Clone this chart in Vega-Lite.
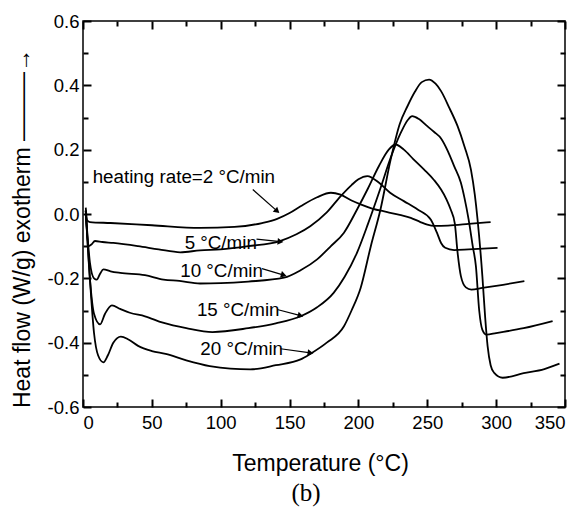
{
  "$schema": "https://vega.github.io/schema/vega-lite/v6.json",
  "width": 482,
  "height": 386,
  "autosize": "none",
  "padding": {"left": 83, "top": 21, "right": 17, "bottom": 107},
  "background": "white",
  "config": {
    "view": {"stroke": "black", "strokeWidth": 1.5},
    "font": "Liberation Sans",
    "axis": {"grid": false, "ticks": true, "tickOpacity": 1, "zindex": 1, "domain": false, "domainColor": "black", "tickColor": "#000000", "tickWidth": 2, "labelColor": "black", "titleColor": "black", "labelFont": "Liberation Sans", "titleFont": "Liberation Sans", "labelFontSize": 18.5, "titleFontSize": 23, "titleFontWeight": "normal"}
  },
  "title": {"text": "(b)", "orient": "bottom", "anchor": "middle", "font": "Liberation Serif", "fontSize": 25, "fontWeight": "normal", "color": "black", "offset": 6, "dx": -18},
  "datasets": {
    "curves": [
      {"rate": "2", "T": 2, "hf": 0.02}, {"rate": "2", "T": 3, "hf": -0.02}, {"rate": "2", "T": 5, "hf": -0.025}, {"rate": "2", "T": 20, "hf": -0.028}, {"rate": "2", "T": 50, "hf": -0.035}, {"rate": "2", "T": 85, "hf": -0.043}, {"rate": "2", "T": 110, "hf": -0.04}, {"rate": "2", "T": 130, "hf": -0.028}, {"rate": "2", "T": 141, "hf": -0.015}, {"rate": "2", "T": 150, "hf": 0.003}, {"rate": "2", "T": 158, "hf": 0.024}, {"rate": "2", "T": 170, "hf": 0.052}, {"rate": "2", "T": 180, "hf": 0.066}, {"rate": "2", "T": 187, "hf": 0.06}, {"rate": "2", "T": 195, "hf": 0.042}, {"rate": "2", "T": 201.6, "hf": 0.03}, {"rate": "2", "T": 210, "hf": 0.017}, {"rate": "2", "T": 221, "hf": 0.006}, {"rate": "2", "T": 230, "hf": -0.003}, {"rate": "2", "T": 238, "hf": -0.012}, {"rate": "2", "T": 245, "hf": -0.025}, {"rate": "2", "T": 250, "hf": -0.033}, {"rate": "2", "T": 255, "hf": -0.037}, {"rate": "2", "T": 265, "hf": -0.036}, {"rate": "2", "T": 280, "hf": -0.031}, {"rate": "2", "T": 296, "hf": -0.025},

      {"rate": "5", "T": 2, "hf": 0.01}, {"rate": "5", "T": 3.9, "hf": -0.1}, {"rate": "5", "T": 6, "hf": -0.095}, {"rate": "5", "T": 8.7, "hf": -0.084}, {"rate": "5", "T": 14, "hf": -0.087}, {"rate": "5", "T": 22, "hf": -0.09}, {"rate": "5", "T": 40, "hf": -0.1}, {"rate": "5", "T": 55, "hf": -0.11}, {"rate": "5", "T": 70.6, "hf": -0.119}, {"rate": "5", "T": 85, "hf": -0.113}, {"rate": "5", "T": 100, "hf": -0.11}, {"rate": "5", "T": 120, "hf": -0.1}, {"rate": "5", "T": 143, "hf": -0.084}, {"rate": "5", "T": 155, "hf": -0.063}, {"rate": "5", "T": 165, "hf": -0.038}, {"rate": "5", "T": 177, "hf": 0.005}, {"rate": "5", "T": 187, "hf": 0.055}, {"rate": "5", "T": 195, "hf": 0.09}, {"rate": "5", "T": 200, "hf": 0.108}, {"rate": "5", "T": 206.5, "hf": 0.118}, {"rate": "5", "T": 215, "hf": 0.097}, {"rate": "5", "T": 223, "hf": 0.066}, {"rate": "5", "T": 233, "hf": 0.04}, {"rate": "5", "T": 243, "hf": 0.014}, {"rate": "5", "T": 252.5, "hf": -0.017}, {"rate": "5", "T": 257, "hf": -0.058}, {"rate": "5", "T": 260, "hf": -0.09}, {"rate": "5", "T": 263, "hf": -0.105}, {"rate": "5", "T": 269.5, "hf": -0.112}, {"rate": "5", "T": 280, "hf": -0.11}, {"rate": "5", "T": 301, "hf": -0.105},

      {"rate": "10", "T": 2, "hf": 0.01}, {"rate": "10", "T": 5, "hf": -0.15}, {"rate": "10", "T": 8, "hf": -0.2}, {"rate": "10", "T": 10, "hf": -0.204}, {"rate": "10", "T": 12.5, "hf": -0.185}, {"rate": "10", "T": 14.8, "hf": -0.172}, {"rate": "10", "T": 20, "hf": -0.178}, {"rate": "10", "T": 27, "hf": -0.183}, {"rate": "10", "T": 45, "hf": -0.19}, {"rate": "10", "T": 58.5, "hf": -0.204}, {"rate": "10", "T": 70, "hf": -0.208}, {"rate": "10", "T": 85, "hf": -0.216}, {"rate": "10", "T": 100, "hf": -0.215}, {"rate": "10", "T": 120, "hf": -0.21}, {"rate": "10", "T": 146, "hf": -0.198}, {"rate": "10", "T": 158, "hf": -0.175}, {"rate": "10", "T": 170, "hf": -0.141}, {"rate": "10", "T": 180, "hf": -0.1}, {"rate": "10", "T": 189.5, "hf": -0.058}, {"rate": "10", "T": 199, "hf": 0.014}, {"rate": "10", "T": 207, "hf": 0.08}, {"rate": "10", "T": 215, "hf": 0.15}, {"rate": "10", "T": 222, "hf": 0.2}, {"rate": "10", "T": 227, "hf": 0.216}, {"rate": "10", "T": 233, "hf": 0.2}, {"rate": "10", "T": 240, "hf": 0.17}, {"rate": "10", "T": 247.7, "hf": 0.138}, {"rate": "10", "T": 255, "hf": 0.105}, {"rate": "10", "T": 260, "hf": 0.076}, {"rate": "10", "T": 264, "hf": 0.045}, {"rate": "10", "T": 267, "hf": 0.014}, {"rate": "10", "T": 270, "hf": -0.03}, {"rate": "10", "T": 272, "hf": -0.12}, {"rate": "10", "T": 274.4, "hf": -0.193}, {"rate": "10", "T": 278, "hf": -0.228}, {"rate": "10", "T": 282, "hf": -0.235}, {"rate": "10", "T": 290, "hf": -0.23}, {"rate": "10", "T": 305, "hf": -0.22}, {"rate": "10", "T": 320.5, "hf": -0.209},

      {"rate": "15", "T": 2, "hf": 0.01}, {"rate": "15", "T": 5, "hf": -0.2}, {"rate": "15", "T": 8, "hf": -0.31}, {"rate": "15", "T": 12.4, "hf": -0.343}, {"rate": "15", "T": 16, "hf": -0.31}, {"rate": "15", "T": 21, "hf": -0.284}, {"rate": "15", "T": 27, "hf": -0.295}, {"rate": "15", "T": 34, "hf": -0.307}, {"rate": "15", "T": 45, "hf": -0.318}, {"rate": "15", "T": 58, "hf": -0.338}, {"rate": "15", "T": 75, "hf": -0.355}, {"rate": "15", "T": 94, "hf": -0.367}, {"rate": "15", "T": 120, "hf": -0.355}, {"rate": "15", "T": 140, "hf": -0.34}, {"rate": "15", "T": 158, "hf": -0.318}, {"rate": "15", "T": 170, "hf": -0.29}, {"rate": "15", "T": 182, "hf": -0.245}, {"rate": "15", "T": 190, "hf": -0.195}, {"rate": "15", "T": 199, "hf": -0.12}, {"rate": "15", "T": 207, "hf": -0.03}, {"rate": "15", "T": 216, "hf": 0.08}, {"rate": "15", "T": 223, "hf": 0.17}, {"rate": "15", "T": 230.7, "hf": 0.252}, {"rate": "15", "T": 236, "hf": 0.293}, {"rate": "15", "T": 239, "hf": 0.304}, {"rate": "15", "T": 244, "hf": 0.295}, {"rate": "15", "T": 250, "hf": 0.273}, {"rate": "15", "T": 255, "hf": 0.255}, {"rate": "15", "T": 260, "hf": 0.235}, {"rate": "15", "T": 265, "hf": 0.195}, {"rate": "15", "T": 269.5, "hf": 0.149}, {"rate": "15", "T": 274.4, "hf": 0.097}, {"rate": "15", "T": 277, "hf": 0.05}, {"rate": "15", "T": 280, "hf": -0.017}, {"rate": "15", "T": 283, "hf": -0.1}, {"rate": "15", "T": 285.3, "hf": -0.162}, {"rate": "15", "T": 287.7, "hf": -0.3}, {"rate": "15", "T": 290, "hf": -0.36}, {"rate": "15", "T": 293, "hf": -0.375}, {"rate": "15", "T": 300, "hf": -0.37}, {"rate": "15", "T": 320, "hf": -0.355}, {"rate": "15", "T": 341, "hf": -0.333},

      {"rate": "20", "T": 2, "hf": 0.01}, {"rate": "20", "T": 5, "hf": -0.2}, {"rate": "20", "T": 8, "hf": -0.37}, {"rate": "20", "T": 11, "hf": -0.44}, {"rate": "20", "T": 14.8, "hf": -0.461}, {"rate": "20", "T": 18, "hf": -0.44}, {"rate": "20", "T": 22, "hf": -0.4}, {"rate": "20", "T": 27.5, "hf": -0.381}, {"rate": "20", "T": 33, "hf": -0.39}, {"rate": "20", "T": 40, "hf": -0.41}, {"rate": "20", "T": 50, "hf": -0.426}, {"rate": "20", "T": 60, "hf": -0.435}, {"rate": "20", "T": 75, "hf": -0.455}, {"rate": "20", "T": 92, "hf": -0.473}, {"rate": "20", "T": 107, "hf": -0.481}, {"rate": "20", "T": 121.5, "hf": -0.483}, {"rate": "20", "T": 140, "hf": -0.47}, {"rate": "20", "T": 158, "hf": -0.452}, {"rate": "20", "T": 165, "hf": -0.435}, {"rate": "20", "T": 177, "hf": -0.4}, {"rate": "20", "T": 189.5, "hf": -0.349}, {"rate": "20", "T": 195, "hf": -0.3}, {"rate": "20", "T": 201.6, "hf": -0.23}, {"rate": "20", "T": 209, "hf": -0.1}, {"rate": "20", "T": 216, "hf": 0.014}, {"rate": "20", "T": 223.4, "hf": 0.169}, {"rate": "20", "T": 230, "hf": 0.28}, {"rate": "20", "T": 235.6, "hf": 0.335}, {"rate": "20", "T": 241, "hf": 0.38}, {"rate": "20", "T": 246, "hf": 0.41}, {"rate": "20", "T": 251.3, "hf": 0.418}, {"rate": "20", "T": 256, "hf": 0.405}, {"rate": "20", "T": 260, "hf": 0.382}, {"rate": "20", "T": 266, "hf": 0.33}, {"rate": "20", "T": 272, "hf": 0.273}, {"rate": "20", "T": 277, "hf": 0.21}, {"rate": "20", "T": 281.7, "hf": 0.138}, {"rate": "20", "T": 284.5, "hf": 0.06}, {"rate": "20", "T": 286.5, "hf": -0.017}, {"rate": "20", "T": 290, "hf": -0.193}, {"rate": "20", "T": 292, "hf": -0.32}, {"rate": "20", "T": 293.8, "hf": -0.411}, {"rate": "20", "T": 296, "hf": -0.47}, {"rate": "20", "T": 298.6, "hf": -0.494}, {"rate": "20", "T": 304.7, "hf": -0.509}, {"rate": "20", "T": 320, "hf": -0.495}, {"rate": "20", "T": 335, "hf": -0.482}, {"rate": "20", "T": 346, "hf": -0.465}
    ],
    "labels": [
      {"label": "heating rate=2 °C/min", "T": 7, "hf": 0.114},
      {"label": "5 °C/min", "T": 73.8, "hf": -0.09},
      {"label": "10 °C/min", "T": 70.6, "hf": -0.178},
      {"label": "15 °C/min", "T": 82.7, "hf": -0.299},
      {"label": "20 °C/min", "T": 85.2, "hf": -0.421}
    ],
    "arrows": [
      {"rate": "2", "T": 123.3, "hf": 0.076, "T2": 141, "hf2": 0.009},
      {"rate": "5", "T": 126, "hf": -0.078, "T2": 143.4, "hf2": -0.086},
      {"rate": "10", "T": 130, "hf": -0.17, "T2": 145.8, "hf2": -0.19},
      {"rate": "15", "T": 141, "hf": -0.297, "T2": 158, "hf2": -0.316},
      {"rate": "20", "T": 143.4, "hf": -0.419, "T2": 165.2, "hf2": -0.432}
    ]
  },
  "resolve": {"axis": {"x": "independent", "y": "independent"}},
  "layer": [
    {
      "data": {"name": "curves"},
      "mark": {"type": "line", "color": "black", "strokeWidth": 1.8, "interpolate": "monotone"},
      "encoding": {
        "x": {"field": "T", "type": "quantitative", "scale": {"domain": [0, 350], "nice": false},
          "axis": {"orient": "bottom", "title": "Temperature (°C)", "values": [0,50,100,150,200,250,300,350], "ticks": true, "tickColor": "#000000", "tickWidth": 2,
            "offset": -8, "tickSize": 8, "labelPadding": 6, "titleX": 237, "titleY": 64, "titleBaseline": "middle", "titleAnchor": "middle", "titleAlign": "center"}},
        "y": {"field": "hf", "type": "quantitative", "scale": {"domain": [-0.6, 0.6], "nice": false},
          "axis": {"orient": "left", "title": "Heat flow (W/g)  exotherm ———→", "values": [-0.6,-0.4,-0.2,0,0.2,0.4,0.6], "ticks": true, "tickColor": "#000000", "tickWidth": 2,
            "labelExpr": "replace(format(datum.value, '.1f'), '−', '-')",
            "offset": -8, "tickSize": 8, "labelPadding": 4, "titleAngle": 270, "titleX": -69, "titleY": 207, "titleAlign": "center", "titleBaseline": "middle"}},
        "detail": {"field": "rate", "type": "nominal"}
      }
    },
    {
      "data": {"name": "arrows"},
      "mark": {"type": "rule", "color": "black", "strokeWidth": 1.2},
      "encoding": {
        "x": {"field": "T", "type": "quantitative",
          "axis": {"orient": "top", "title": null, "labels": false, "values": [0,50,100,150,200,250,300,350], "ticks": true, "tickColor": "#000000", "tickWidth": 2, "offset": -8, "tickSize": 8}},
        "y": {"field": "hf", "type": "quantitative",
          "axis": {"orient": "right", "title": null, "labels": false, "values": [-0.6,-0.4,-0.2,0,0.2,0.4,0.6], "ticks": true, "tickColor": "#000000", "tickWidth": 2, "offset": -8, "tickSize": 8}},
        "x2": {"field": "T2"},
        "y2": {"field": "hf2"}
      }
    },
    {
      "data": {"name": "arrows"},
      "transform": [{"calculate": "atan2(-(datum.hf2 - datum.hf) * 321.67, (datum.T2 - datum.T) * 1.3771) * 180 / PI", "as": "ang"}],
      "mark": {"type": "point", "shape": "triangle-right", "filled": true, "color": "black", "size": 45, "opacity": 1},
      "encoding": {
        "x": {"field": "T2", "type": "quantitative",
          "axis": {"orient": "bottom", "title": null, "labels": false, "values": [25,75,125,175,225,275,325], "ticks": true, "tickColor": "#000000", "tickWidth": 2, "offset": -5, "tickSize": 5}},
        "y": {"field": "hf2", "type": "quantitative",
          "axis": {"orient": "left", "title": null, "labels": false, "values": [-0.5,-0.3,-0.1,0.1,0.3,0.5], "ticks": true, "tickColor": "#000000", "tickWidth": 2, "offset": -5, "tickSize": 5}},
        "angle": {"field": "ang", "type": "quantitative", "scale": null}
      }
    },
    {
      "data": {"name": "labels"},
      "mark": {"type": "text", "align": "left", "baseline": "middle", "font": "Liberation Sans", "fontSize": 18.8, "color": "black"},
      "encoding": {
        "x": {"field": "T", "type": "quantitative",
          "axis": {"orient": "top", "title": null, "labels": false, "values": [25,75,125,175,225,275,325], "ticks": true, "tickColor": "#000000", "tickWidth": 2, "offset": -5, "tickSize": 5}},
        "y": {"field": "hf", "type": "quantitative",
          "axis": {"orient": "right", "title": null, "labels": false, "values": [-0.5,-0.3,-0.1,0.1,0.3,0.5], "ticks": true, "tickColor": "#000000", "tickWidth": 2, "offset": -5, "tickSize": 5}},
        "text": {"field": "label"}
      }
    }
  ]
}
